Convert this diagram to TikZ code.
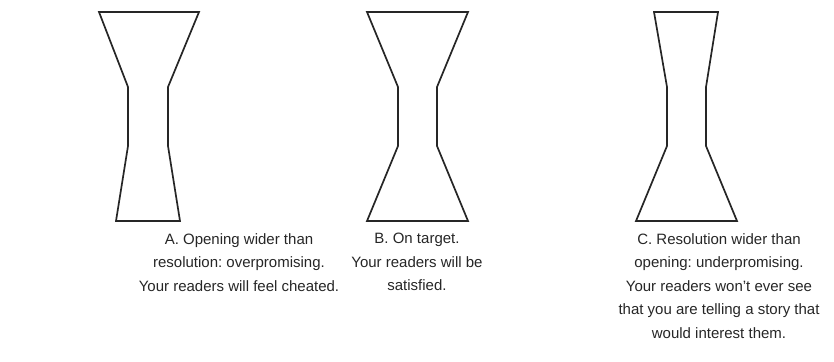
\documentclass[tikz,border=0pt]{standalone}
\usepackage{fontspec}
\setmainfont{Liberation Sans}
\frenchspacing
\begin{document}
\begin{tikzpicture}[x=1pt,y=-1pt,
  glass/.style={draw=black!85,line width=1.7pt,line join=miter},
  caption/.style={align=center,anchor=north,inner sep=0pt,
    font=\fontsize{15}{23.5}\selectfont,text=black!85}]
\useasboundingbox (0,0) rectangle (834,361);
% A: opening wider than resolution
\draw[glass] (99,12) -- (199,12) -- (168,87) -- (168,146) -- (180,221)
  -- (116,221) -- (128,146) -- (128,87) -- cycle;
% B: opening and resolution matched
\draw[glass] (367,12) -- (468,12) -- (437,87) -- (437,146) -- (468,221)
  -- (367,221) -- (398,146) -- (398,87) -- cycle;
% C: resolution wider than opening
\draw[glass] (654,12) -- (718,12) -- (706,87) -- (706,146) -- (737,221)
  -- (636,221) -- (667,146) -- (667,87) -- cycle;
\node[caption] (capA) at (239,233) {A. Opening wider than\\resolution: overpromising.\\Your readers will feel cheated.};
\node[caption] (capB) at (417,233) {B. On target.\\Your readers will be\\satisfied.};
\node[caption] (capC) at (719,233) {C. Resolution wider than\\opening: underpromising.\\Your readers won’t ever see\\that you are telling a story that\\would interest them.};
\end{tikzpicture}
\end{document}
